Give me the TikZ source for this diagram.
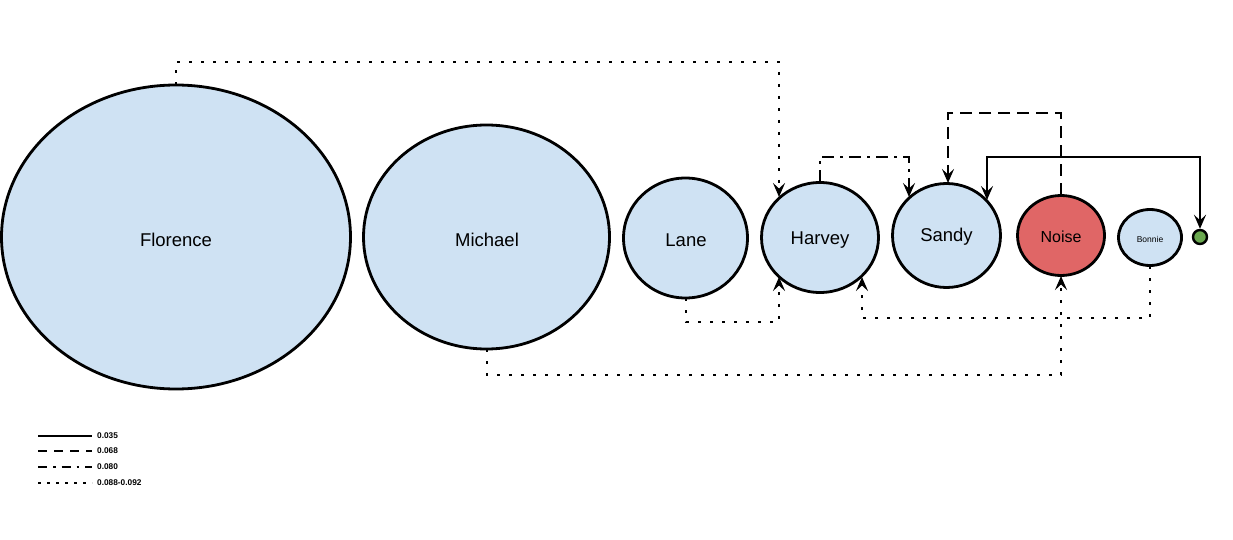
\documentclass[tikz,border=0pt]{standalone}
\usepackage{fontspec}
\setmainfont{Liberation Sans}
\usetikzlibrary{arrows.meta}
\definecolor{nodeblue}{HTML}{CFE2F3}
\definecolor{noisered}{HTML}{E06666}
\definecolor{dotgreen}{HTML}{6AA84F}
\begin{document}
\begin{tikzpicture}[x=1pt,y=-1pt,
  stormshape/.style={draw=black, line width=2.8pt, fill=nodeblue},
  stormtext/.style={font=\fontsize{18.5}{20}\selectfont},
  conn/.style={line width=2.8pt, -{Stealth[length=14pt,width=12pt,inset=5.5pt]}},
  dualconn/.style={line width=2.8pt, {Stealth[length=14pt,width=12pt,inset=5.5pt]}-{Stealth[length=14pt,width=12pt,inset=5.5pt]}},
  dotline/.style={dash pattern=on 3pt off 9pt},
  dashline/.style={dash pattern=on 12pt off 7pt},
  dashdotline/.style={dash pattern=on 12pt off 6pt on 3pt off 6pt},
  legendlabel/.style={font=\fontsize{8.3}{9}\selectfont\bfseries, anchor=west, inner sep=0pt}
]
\useasboundingbox (0,0) rectangle (1233,540);
% ellipses
\path[stormshape] (176,237) ellipse [x radius=174.5, y radius=152];
\node[stormtext] (flo) at (176,240) {Florence};
\path[stormshape] (486.5,237) ellipse [x radius=123, y radius=112];
\node[stormtext] (mic) at (487,240) {Michael};
\path[stormshape] (685.5,238) ellipse [x radius=62, y radius=60];
\node[stormtext] (lan) at (686,240) {Lane};
\path[stormshape] (820,237.5) ellipse [x radius=58.5, y radius=55];
\node[stormtext] (har) at (820,240) {Harvey};
\path[stormshape] (946.5,235.5) ellipse [x radius=54, y radius=52];
\node[stormtext] (san) at (946.5,237) {Sandy};
\path[stormshape, fill=noisered] (1061,235.5) ellipse [x radius=43.5, y radius=40];
\node[font=\fontsize{16}{18}\selectfont] (noi) at (1061,237) {Noise};
\path[stormshape] (1150,237.5) ellipse [x radius=31.5, y radius=28];
\node[font=\fontsize{8.5}{9}\selectfont] (bon) at (1150,239) {Bonnie};
\node[circle, draw=black, line width=2.4pt, fill=dotgreen, minimum size=14pt, inner sep=0pt] (grn) at (1200,237) {};
% connector end points
\coordinate (floT) at (176,85);
\coordinate (micB) at (487,349);
\coordinate (lanB) at (686,298);
\coordinate (harT) at (820,182);
\coordinate (harTL) at (779,197);
\coordinate (harBL) at (779,277);
\coordinate (harBR) at (862,277);
\coordinate (sanT) at (948,183);
\coordinate (sanTL) at (909,197);
\coordinate (sanTR) at (987,200);
\coordinate (noiT) at (1061,195);
\coordinate (noiB) at (1061,276);
\coordinate (bonB) at (1150,266);
% connectors
\draw[conn, dotline] (floT) -- (176,62) -| (harTL);
\draw[conn, dashdotline] (harT) -- (820,157) -| (sanTL);
\draw[conn, dashline] (noiT) -- (1061,113) -| (sanT);
\draw[dualconn] (grn.north) -- (1200,157) -| (sanTR);
\draw[conn, dotline] (lanB) -- (686,322) -| (harBL);
\draw[conn, dotline] (bonB) -- (1150,318) -| (harBR);
\draw[conn, dotline] (micB) -- (487,375) -| (noiB);
% legend
\coordinate (l1a) at (38,436); \coordinate (l1b) at (92,436);
\coordinate (l2a) at (38,451); \coordinate (l2b) at (92,451);
\coordinate (l3a) at (38,467); \coordinate (l3b) at (92,467);
\coordinate (l4a) at (38,483); \coordinate (l4b) at (92,483);
\draw[line width=2.6pt] (l1a) -- (l1b);
\draw[line width=2.6pt, dash pattern=on 9pt off 7pt] (l2a) -- (l2b);
\draw[line width=2.6pt, dash pattern=on 9pt off 6pt on 2.5pt off 6pt] (l3a) -- (l3b);
\draw[line width=2.6pt, dash pattern=on 2.5pt off 6.5pt] (l4a) -- (l4b);
\node[legendlabel] (t1) at (97,436) {0.035};
\node[legendlabel] (t2) at (97,451) {0.068};
\node[legendlabel] (t3) at (97,467) {0.080};
\node[legendlabel] (t4) at (97,483) {0.088-0.092};
\end{tikzpicture}
\end{document}
